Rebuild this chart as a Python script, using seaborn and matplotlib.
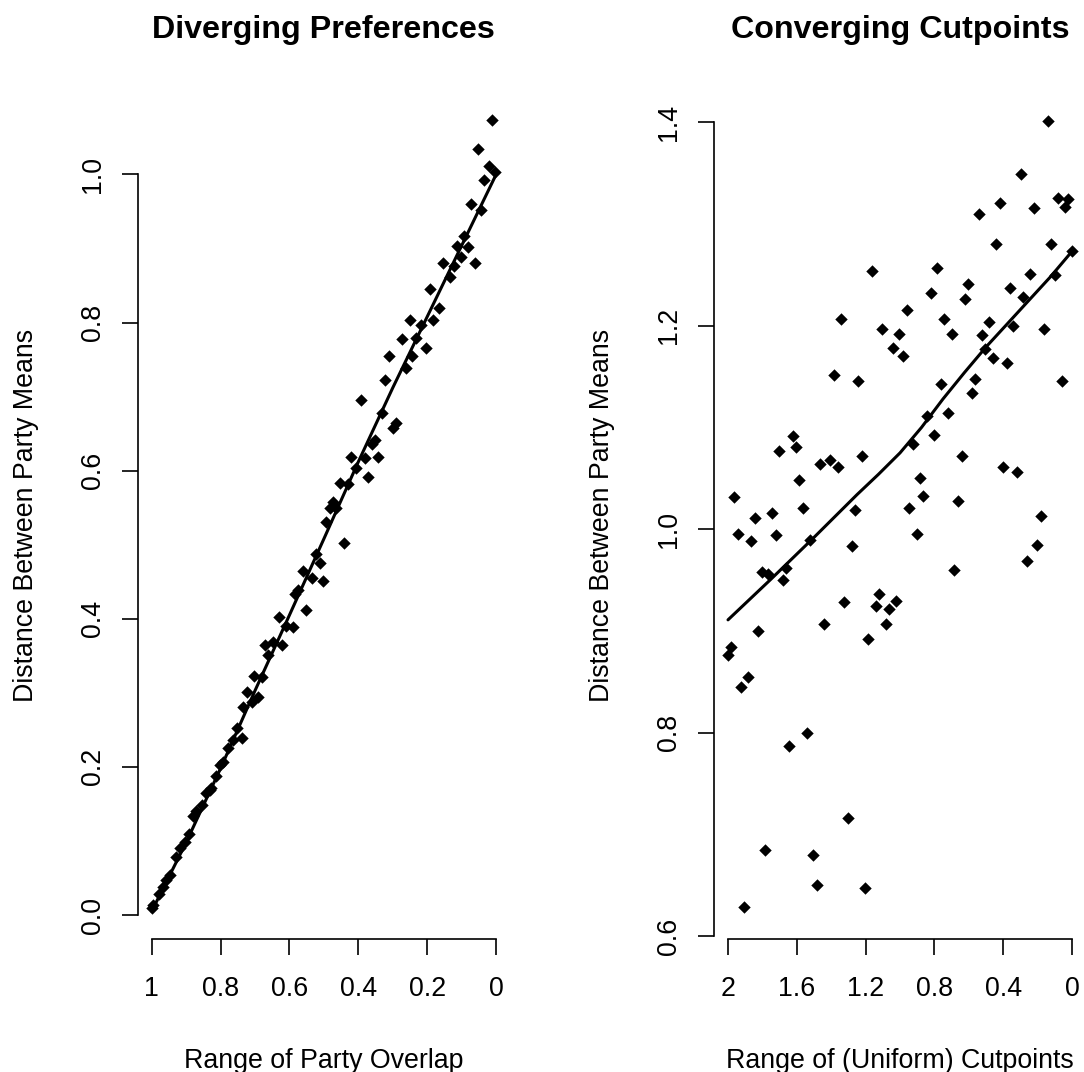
import numpy as np
import pandas as pd
import matplotlib
matplotlib.use("Agg")
import matplotlib.pyplot as plt
import seaborn as sns

# ---------------- data ----------------
left_x = [0.012, 0.053, 0.021, 0.002, 0.034, 0.073, 0.044, 0.094, 0.113, 0.082,
          0.102, 0.061, 0.153, 0.123, 0.135, 0.193, 0.166, 0.184, 0.251, 0.217,
          0.232, 0.273, 0.205, 0.244, 0.311, 0.263, 0.323, 0.391, 0.330, 0.290,
          0.300, 0.353, 0.359, 0.343, 0.422, 0.382, 0.406, 0.372, 0.454, 0.430,
          0.474, 0.483, 0.464, 0.493, 0.443, 0.522, 0.512, 0.562, 0.536, 0.503,
          0.575, 0.585, 0.551, 0.631, 0.609, 0.590, 0.672, 0.647, 0.623, 0.662,
          0.703, 0.681, 0.722, 0.691, 0.708, 0.734, 0.751, 0.739, 0.763, 0.778,
          0.794, 0.802, 0.812, 0.828, 0.841, 0.831, 0.855, 0.872, 0.879, 0.891,
          0.904, 0.918, 0.930, 0.947, 0.957, 0.966, 0.978, 0.995, 1.000]
left_y = [1.073, 1.034, 1.011, 1.003, 0.993, 0.960, 0.952, 0.917, 0.904, 0.902,
          0.889, 0.881, 0.881, 0.876, 0.862, 0.846, 0.819, 0.804, 0.804, 0.797,
          0.779, 0.778, 0.765, 0.755, 0.755, 0.738, 0.723, 0.695, 0.678, 0.664,
          0.657, 0.641, 0.636, 0.618, 0.619, 0.617, 0.603, 0.591, 0.584, 0.582,
          0.558, 0.549, 0.549, 0.531, 0.503, 0.487, 0.476, 0.465, 0.455, 0.451,
          0.439, 0.434, 0.412, 0.402, 0.390, 0.389, 0.364, 0.368, 0.364, 0.351,
          0.323, 0.322, 0.301, 0.294, 0.288, 0.281, 0.252, 0.239, 0.236, 0.225,
          0.206, 0.203, 0.188, 0.172, 0.165, 0.169, 0.149, 0.140, 0.134, 0.110,
          0.099, 0.091, 0.078, 0.054, 0.047, 0.038, 0.029, 0.014, 0.009]

left_fit_x = [1.0, 0.9, 0.8, 0.7, 0.6, 0.5, 0.4, 0.3, 0.2, 0.1, 0.0]
left_fit_y = [0.005, 0.098, 0.198, 0.303, 0.405, 0.508, 0.612, 0.712, 0.808, 0.904, 1.0]

right_x = [0.138, 0.298, 0.419, 0.539, 0.221, 0.080, 0.022, 0.041, 0.442, 0.122,
           0.002, 1.165, 0.783, 0.244, 0.099, 0.360, 0.603, 0.822, 0.622, 0.283,
           0.961, 1.343, 0.742, 1.106, 1.004, 0.699, 0.481, 0.521, 0.341, 0.161,
           1.042, 0.984, 0.504, 0.461, 0.380, 1.382, 1.242, 0.762, 0.562, 0.580,
           0.060, 0.845, 0.723, 0.801, 0.923, 1.624, 1.605, 1.703, 1.465, 1.407,
           1.362, 1.223, 0.641, 0.403, 0.322, 1.585, 0.884, 0.864, 1.963, 0.665,
           1.562, 1.746, 1.262, 0.946, 1.843, 0.182,
           1.944, 1.866, 1.721, 1.523, 1.281, 0.903, 0.202, 0.263, 1.804, 1.766,
           1.663, 1.682, 0.684, 1.324, 1.122, 1.141, 1.023, 1.064, 1.081, 1.442,
           1.824, 1.184, 1.983, 2.000, 1.882, 1.924, 1.542, 1.644, 1.302, 1.785,
           1.504, 1.484, 1.203, 1.905]
right_y = [1.401, 1.349, 1.320, 1.310, 1.316, 1.325, 1.324, 1.317, 1.280, 1.280,
           1.273, 1.254, 1.257, 1.251, 1.250, 1.237, 1.241, 1.232, 1.226, 1.228,
           1.215, 1.207, 1.207, 1.197, 1.192, 1.192, 1.204, 1.191, 1.200, 1.197,
           1.178, 1.170, 1.177, 1.168, 1.163, 1.152, 1.146, 1.143, 1.148, 1.134,
           1.146, 1.111, 1.114, 1.093, 1.084, 1.092, 1.081, 1.077, 1.064, 1.068,
           1.061, 1.072, 1.072, 1.061, 1.056, 1.048, 1.050, 1.033, 1.032, 1.028,
           1.021, 1.016, 1.019, 1.021, 1.011, 1.013,
           0.995, 0.988, 0.994, 0.989, 0.984, 0.995, 0.985, 0.969, 0.958, 0.956,
           0.962, 0.950, 0.960, 0.929, 0.936, 0.925, 0.930, 0.922, 0.907, 0.907,
           0.900, 0.892, 0.884, 0.876, 0.855, 0.845, 0.800, 0.787, 0.716, 0.685,
           0.680, 0.651, 0.648, 0.629]

right_fit_x = [2.0, 1.75, 1.5, 1.25, 1.125, 1.0, 0.875, 0.75, 0.625, 0.5,
               0.375, 0.25, 0.125, 0.0]
right_fit_y = [0.911, 0.951, 0.992, 1.034, 1.054, 1.075, 1.100, 1.128, 1.154, 1.179,
               1.202, 1.225, 1.248, 1.273]

left_xticks = [0.0, 0.2, 0.4, 0.6, 0.8, 1.0]
left_xticklabels = ["0", "0.2", "0.4", "0.6", "0.8", "1"]
left_yticks = [0.0, 0.2, 0.4, 0.6, 0.8, 1.0]
left_yticklabels = ["0.0", "0.2", "0.4", "0.6", "0.8", "1.0"]
right_xticks = [0.0, 0.4, 0.8, 1.2, 1.6, 2.0]
right_xticklabels = ["0", "0.4", "0.8", "1.2", "1.6", "2"]
right_yticks = [0.6, 0.8, 1.0, 1.2, 1.4]
right_yticklabels = ["0.6", "0.8", "1.0", "1.2", "1.4"]

titles = ["Diverging Preferences", "Converging Cutpoints"]
xlabels = ["Range of Party Overlap", "Range of (Uniform) Cutpoints"]
ylabel = "Distance Between Party Means"

# ---------------- style ----------------
sns.set_style("ticks")
plt.rcParams["font.family"] = ["Liberation Sans", "DejaVu Sans"]
FS = 19.3
plt.rcParams.update({
    "axes.linewidth": 1.2,
    "xtick.major.width": 1.2,
    "ytick.major.width": 1.2,
    "xtick.major.size": 11.5,
    "ytick.major.size": 11.5,
    "xtick.color": "black",
    "ytick.color": "black",
    "xtick.labelcolor": "black",
    "ytick.labelcolor": "black",
    "axes.edgecolor": "black",
    "axes.labelcolor": "black",
    "axes.titlecolor": "black",
    "text.color": "black",
})

W, H = 1084, 1072
fig = plt.figure(figsize=(W / 100, H / 100), dpi=100)

ax_top = 91
ax_bot = 939
ax_h = ax_bot - ax_top
ax_w = 372
ax1 = fig.add_axes([137.9 / W, (H - ax_bot) / H, ax_w / W, ax_h / H])
ax2 = fig.add_axes([714.0 / W, (H - ax_bot) / H, ax_w / W, ax_h / H])

dfl = pd.DataFrame({"x": left_x, "y": left_y})
dfr = pd.DataFrame({"x": right_x, "y": right_y})
fitl = pd.DataFrame({"x": left_fit_x, "y": left_fit_y})
fitr = pd.DataFrame({"x": right_fit_x, "y": right_fit_y})

for ax, df, fit in [(ax1, dfl, fitl), (ax2, dfr, fitr)]:
    sns.scatterplot(data=df, x="x", y="y", ax=ax, marker="D", s=40,
                    color="black", linewidth=0, legend=False, zorder=3)
    sns.lineplot(data=fit, x="x", y="y", ax=ax, color="black", linewidth=2.2,
                 estimator=None, sort=False, legend=False, zorder=4)

ax1.set_xlim(1.04, -0.04)
ax1.set_ylim(-0.0324, 1.1127)
ax2.set_xlim(2.0814, -0.0814)
ax2.set_ylim(0.5975, 1.4305)

ax1.set_xticks(left_xticks, left_xticklabels)
ax1.set_yticks(left_yticks, left_yticklabels)
ax2.set_xticks(right_xticks, right_xticklabels)
ax2.set_yticks(right_yticks, right_yticklabels)

for i, ax in enumerate([ax1, ax2]):
    sns.despine(ax=ax, trim=True)
    ax.tick_params(axis="x", labelsize=FS, pad=15.5, direction="out",
                   colors="black")
    ax.tick_params(axis="y", labelsize=FS, pad=11.7, direction="out",
                   colors="black")
    for lab in ax.get_yticklabels():
        lab.set_rotation(90)
        lab.set_va("center")
    ax.set_xlabel(xlabels[i], fontsize=FS, color="black")
    ax.set_ylabel(ylabel, fontsize=FS, color="black")
    ax.xaxis.set_label_coords(0.5, (ax_bot - 1048) / ax_h)
    ax.yaxis.set_label_coords(-99.0 / ax_w, 0.5)
    ax.set_title(titles[i], fontsize=23.2, fontweight="bold", pad=38,
                 color="black")
    ax.set_facecolor("white")

fig.patch.set_facecolor("white")
fig.savefig("out.png", dpi=100, facecolor="white")
